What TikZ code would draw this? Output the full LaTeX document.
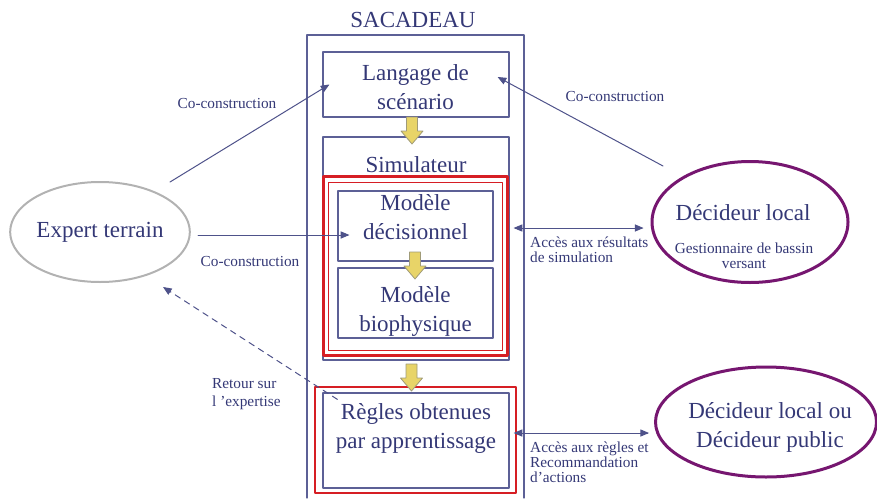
\documentclass[tikz,border=0pt]{standalone}
\usepackage{fontspec}
\setmainfont{Liberation Serif}
\usetikzlibrary{arrows}
\usetikzlibrary{shapes.geometric}
\definecolor{txtblue}{RGB}{52,56,118}
\definecolor{boxblue}{RGB}{92,96,150}
\definecolor{linkblue}{RGB}{78,82,138}
\definecolor{sacred}{RGB}{214,30,36}
\definecolor{ellgrey}{RGB}{178,178,178}
\definecolor{ellpurple}{RGB}{118,22,112}
\definecolor{yellowfill}{RGB}{232,212,104}
\definecolor{yellowline}{RGB}{160,155,120}
\newcommand\bigtxt{\fontsize{23}{29}\selectfont}
\newcommand\smalltxt{\fontsize{15.3}{14.8}\selectfont}
\tikzset{
  big/.style={text=txtblue, font=\bigtxt, inner sep=0pt},
  small/.style={text=txtblue, font=\smalltxt, inner sep=0pt},
  box/.style={draw=boxblue, line width=1.2pt, minimum width=186pt, inner sep=0pt},
  redbox/.style={draw=sacred, line width=3pt, inner sep=0pt},
  redthin/.style={draw=sacred, line width=1pt, inner sep=0pt},
  link/.style={draw=linkblue, line width=1pt},
  yarrow/.pic={\draw[yellowline, fill=yellowfill, line width=0.8pt] (-5.5,0)--(5.5,0)--(5.5,14)--(11,14)--(0,27)--(-11,14)--(-5.5,14)--cycle;}
}
\begin{document}
\begin{tikzpicture}[x=1pt,y=-1pt,line cap=round,line join=round,>=triangle 45]
\useasboundingbox (0,0) rectangle (877,498);
% SACADEAU frame
\node[big] (sacadeau) at (413,20) {SACADEAU};
\draw [draw=boxblue, line width=1.3pt] (307,498)--(307,35)--(524,35)--(524,498);
\node[box, minimum height=65pt] (langage) at (416,84.5) {};
\node[big, align=center] (langtxt) at (415.5,87) {Langage de\\scénario};
\node[box, minimum height=223pt] (simul) at (416,248.5) {};
\node[big] (simtxt) at (416,165) {Simulateur};
\node[redbox, minimum width=184pt, minimum height=179pt] (redout) at (415,265.5) {};
\node[redthin, minimum width=174pt, minimum height=168pt] (redin) at (415,266) {};
\node[box, minimum width=155pt, minimum height=70pt] (decis) at (415.5,226) {};
\node[big, align=center] (decistxt) at (415.5,217.5) {Modèle\\décisionnel};
\node[box, minimum width=155pt, minimum height=70pt] (bio) at (415.5,303) {};
\node[big, align=center] (biotxt) at (415.5,311) {Modèle\\biophysique};
\node[redthin, line width=1.2pt, minimum width=201pt, minimum height=106pt] (reglesred) at (415.5,440) {};
\node[box, minimum height=95pt] (regles) at (416,440.5) {};
\node[big, align=center] (reglestxt) at (416,428) {Règles obtenues\\par apprentissage};
% yellow arrows
\pic (ya1) at (412,117) {yarrow};
\pic (ya2) at (415,252) {yarrow};
\pic (ya3) at (411.5,364) {yarrow};
% actors
\node[ellipse, draw=ellgrey, line width=2pt, minimum width=176pt, minimum height=100pt, inner sep=0pt, text=txtblue, font=\bigtxt] (expert) at (100,232) {Expert terrain};
\node[ellipse, draw=ellpurple, line width=3pt, minimum width=196pt, minimum height=121pt] (dlocal) at (750,222) {};
\node[big] (dloctxt) at (743,213) {Décideur local};
\node[small, align=center] (dlocsub) at (744,255.5) {Gestionnaire de bassin\\versant};
\node[ellipse, draw=ellpurple, line width=3pt, minimum width=221pt, minimum height=110pt] (dpub) at (766,422) {};
\node[big, align=center] (dpubtxt) at (770,427) {Décideur local ou\\Décideur public};
% links
\coordinate (e1) at (170,182);
\draw[link,->] (e1) -- ([xshift=7pt]langage.west);
\node[small] (co1) at (227,104) {Co-construction};
\coordinate (d1) at (663,166);
\draw[link,->] (d1) -- ([xshift=-12pt,yshift=7.5pt]langage.east);
\node[small] (co2) at (615,97) {Co-construction};
\coordinate (e3) at (198,235);
\draw[link,->] (e3) -- ([xshift=12pt]decis.west |- e3);
\node[small] (co3) at (250,262) {Co-construction};
\coordinate (e4) at (163,287);
\draw[link,->,dash pattern=on 6pt off 5pt] ([xshift=15pt,yshift=-7pt]regles.north west) -- (e4);
\node[small, anchor=west, align=left] (retour) at (212,394) {Retour sur\\[3pt]l ’expertise};
\coordinate (r1) at (0,228);
\draw[link,<->,shorten <=4pt,shorten >=7pt] (simul.east |- r1) -- (dlocal.west |- r1);
\node[small, anchor=west, align=left] (acc1) at (530,250) {Accès aux résultats\\de simulation};
\coordinate (r2) at (0,433);
\draw[link,<->,shorten <=4pt,shorten >=5pt] (regles.east |- r2) -- (dpub.west |- r2);
\node[small, anchor=west, align=left] (acc2) at (530,462) {Accès aux règles et\\Recommandation\\d’actions};
\end{tikzpicture}
\end{document}
